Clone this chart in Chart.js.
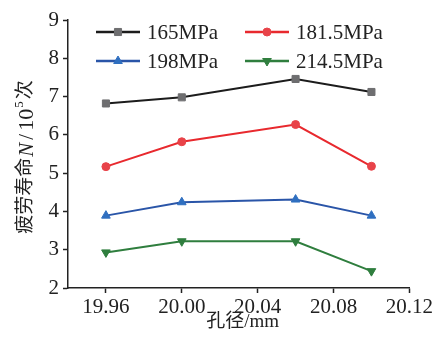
<!DOCTYPE html>
<html>
<head>
<meta charset="utf-8">
<script src="https://cdn.jsdelivr.net/npm/chart.js@4/dist/chart.umd.min.js"></script>
<style>
  html, body { margin: 0; padding: 0; background: #fff; }
  #wrap { width: 435px; height: 338px; }
</style>
</head>
<body>
<div id="wrap"><canvas id="c" width="435" height="338"></canvas></div>
<script>
// data
const holeSizes = [19.96, 20.00, 20.06, 20.10];
const xTicks = [19.96, 20.00, 20.04, 20.08, 20.12];
const life165 = [6.82, 6.98, 7.46, 7.12];
const life181 = [5.17, 5.82, 6.27, 5.18];
const life198 = [3.89, 4.24, 4.31, 3.89];
const life214 = [2.93, 3.22, 3.22, 2.44];
const seriesLabels = ['165MPa', '181.5MPa', '198MPa', '214.5MPa'];

const serif = "'Liberation Serif', 'Times New Roman', serif";
const cjk = "'Liberation Serif', 'Noto Sans CJK SC', serif";

function pts(vals) {
    return vals.map((v, i) => ({ x: holeSizes[i], y: v }));
}

function makeSet(label, vals, lineColor, markColor, style, radius, rotation) {
    return {
        label,
        data: pts(vals),
        borderColor: lineColor,
        backgroundColor: markColor,
        pointBorderColor: markColor,
        pointBackgroundColor: markColor,
        pointStyle: style,
        pointRadius: radius,
        pointBorderWidth: 1,
        pointRotation: rotation || 0,
        borderWidth: 2,
        tension: 0
    };
}

const datasets = [
    makeSet(seriesLabels[0], life165, '#1c1c1c', '#6e6e70', 'rect', 5),
    makeSet(seriesLabels[1], life181, '#e8292e', '#e84349', 'circle', 4),
    makeSet(seriesLabels[2], life198, '#2a55a8', '#2f6fc0', 'triangle', 5),
    makeSet(seriesLabels[3], life214, '#2f7e3e', '#2f7e3e', 'triangle', 5, 180)
];

// legend in two columns inside the plot area
const legendPlugin = {
    id: 'twoColLegend',
    afterDraw(chart) {
        const ctx = chart.ctx;
        const cols = [96, 245];
        const rows = [32, 61];
        chart.data.datasets.forEach((ds, i) => {
            const x = cols[i % 2];
            const y = rows[Math.floor(i / 2)];
            ctx.save();
            ctx.strokeStyle = ds.borderColor;
            ctx.lineWidth = 2.5;
            ctx.beginPath();
            ctx.moveTo(x, y);
            ctx.lineTo(x + 44, y);
            ctx.stroke();
            ctx.fillStyle = ds.pointBackgroundColor;
            ctx.strokeStyle = ds.pointBorderColor;
            ctx.lineWidth = 1;
            Chart.helpers.drawPoint(ctx, {
                pointStyle: ds.pointStyle,
                radius: ds.pointRadius,
                rotation: ds.pointRotation,
                borderWidth: 1
            }, x + 22, y);
            ctx.fillStyle = '#222';
            ctx.font = '21px ' + serif;
            ctx.textBaseline = 'middle';
            ctx.textAlign = 'left';
            ctx.fillText(ds.label, x + 51, y + 1);
            ctx.restore();
        });
    }
};

// axis titles with italic N and superscript 5
const titlePlugin = {
    id: 'axisTitles',
    afterDraw(chart) {
        const ctx = chart.ctx;
        const a = chart.chartArea;
        ctx.save();
        ctx.fillStyle = '#222';
        ctx.textBaseline = 'middle';
        ctx.textAlign = 'center';
        ctx.font = '19px ' + cjk;
        ctx.fillText('孔径/mm', (a.left + a.right) / 2 + 4, 322);

        ctx.translate(26, 157);
        ctx.rotate(-Math.PI / 2);
        const parts = [
            { t: '疲劳寿命', f: '19px ' + cjk, dy: 0, gap: 1 },
            { t: 'N', f: 'italic 21px ' + serif, dy: 1, gap: 3 },
            { t: '/', f: '21px ' + serif, dy: 1, gap: 3 },
            { t: '10', f: '22px ' + serif, dy: 1, gap: 1 },
            { t: '5', f: '13px ' + serif, dy: -6, gap: 2 },
            { t: '次', f: '19px ' + cjk, dy: 0, gap: 0 }
        ];
        let total = 0;
        parts.forEach(p => { ctx.font = p.f; p.w = ctx.measureText(p.t).width; total += p.w + p.gap; });
        let x = -total / 2;
        ctx.textAlign = 'left';
        parts.forEach(p => {
            ctx.font = p.f;
            ctx.fillText(p.t, x, p.dy);
            x += p.w + p.gap;
        });
        ctx.restore();
    }
};

new Chart(document.getElementById('c'), {
    type: 'line',
    data: { datasets },
    options: {
        responsive: false,
        animation: false,
        layout: { padding: { top: 20, right: 25, left: 0, bottom: 0 } },
        plugins: {
            legend: { display: false },
            tooltip: { enabled: false }
        },
        scales: {
            x: {
                type: 'linear',
                min: 19.94,
                max: 20.12,
                afterBuildTicks: axis => { axis.ticks = xTicks.map(v => ({ value: v })); },
                afterFit: s => { s.height = 50; },
                grid: { drawOnChartArea: false, drawTicks: true, tickLength: 5, color: '#222', tickWidth: 1.5 },
                border: { color: '#222', width: 1.5 },
                ticks: {
                    color: '#222',
                    font: { family: serif, size: 21 },
                    padding: 2,
                    maxRotation: 0,
                    callback: v => v.toFixed(2)
                }
            },
            y: {
                min: 2,
                max: 9,
                afterFit: s => { s.width = 68; },
                grid: { drawOnChartArea: false, drawTicks: true, tickLength: 5, color: '#222', tickWidth: 1.5 },
                border: { color: '#222', width: 1.5 },
                ticks: {
                    stepSize: 1,
                    color: '#222',
                    font: { family: serif, size: 21 },
                    padding: 4
                }
            }
        }
    },
    plugins: [legendPlugin, titlePlugin]
});
</script>
</body>
</html>
